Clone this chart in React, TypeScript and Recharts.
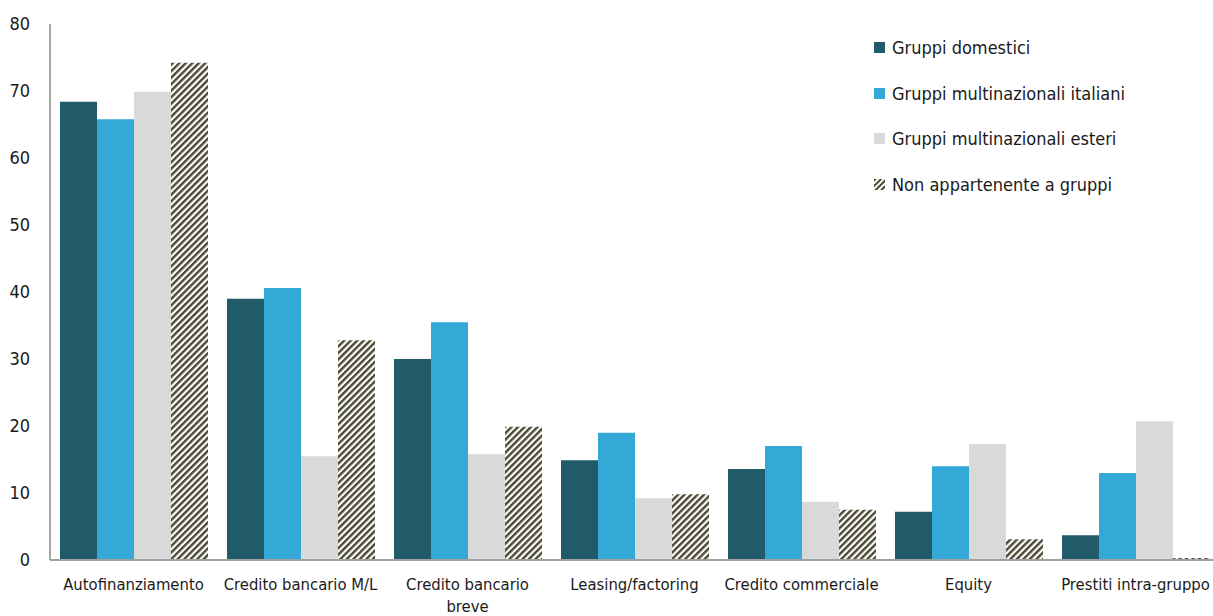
import React from "react";
import { BarChart, Bar, XAxis, YAxis, Legend } from "recharts";

const categories = [
  "Autofinanziamento",
  "Credito bancario M/L",
  "Credito bancario breve",
  "Leasing/factoring",
  "Credito commerciale",
  "Equity",
  "Prestiti intra-gruppo",
];
const tickLines: string[][] = [
  ["Autofinanziamento"],
  ["Credito bancario M/L"],
  ["Credito bancario", "breve"],
  ["Leasing/factoring"],
  ["Credito commerciale"],
  ["Equity"],
  ["Prestiti intra-gruppo"],
];
const gruppiDomestici = [68.4, 39.0, 30.0, 14.9, 13.6, 7.2, 3.7];
const multinazionaliItaliani = [65.8, 40.6, 35.5, 19.0, 17.0, 14.0, 13.0];
const multinazionaliEsteri = [69.9, 15.5, 15.8, 9.2, 8.7, 17.3, 20.7];
const nonAppartenente = [74.2, 32.8, 19.9, 9.8, 7.5, 3.1, 0.3];
const yTicks = [0, 10, 20, 30, 40, 50, 60, 70, 80];

const seriesNames = [
  "Gruppi domestici",
  "Gruppi multinazionali italiani",
  "Gruppi multinazionali esteri",
  "Non appartenente a gruppi",
];
const colors = ["#215a69", "#34a8d6", "#d9d9d9", "url(#hatch)"];

const data = categories.map((c, i) => ({
  name: c,
  s0: gruppiDomestici[i],
  s1: multinazionaliItaliani[i],
  s2: multinazionaliEsteri[i],
  s3: nonAppartenente[i],
}));

const FONT = "'Liberation Sans Narrow', 'Arial Narrow', 'DejaVu Sans Condensed', 'DejaVu Sans', sans-serif";
const TEXT = "#1a1a1a";

const XTick = (props: any) => {
  const { x, y, payload } = props;
  const lines = tickLines[payload.index] || [payload.value];
  return (
    <text x={x} y={y} textAnchor="middle" fill={TEXT} fontSize={16.5} fontFamily={FONT} style={{ fontStretch: "condensed" }}>
      {lines.map((l, i) => (
        <tspan key={i} x={x} dy={i === 0 ? 30 : 22}>
          {l}
        </tspan>
      ))}
    </text>
  );
};

const LegendContent = () => (
  <div style={{ fontFamily: FONT, fontSize: 18, color: TEXT, fontStretch: "condensed" }}>
    {seriesNames.map((n, i) => (
      <div key={n} style={{ display: "flex", alignItems: "center", height: 45.5 }}>
        <svg width={11} height={11} style={{ marginRight: 7 }}>
          <defs>
            <pattern id={`lhatch${i}`} width="4" height="4" patternUnits="userSpaceOnUse" patternTransform="rotate(45)">
              <rect width="4" height="4" fill="#ffffff" />
              <rect width="2" height="4" fill="#4b4832" />
            </pattern>
          </defs>
          <rect width={11} height={11} fill={i === 3 ? `url(#lhatch${i})` : colors[i]} />
        </svg>
        <span>{n}</span>
      </div>
    ))}
  </div>
);

export default function App() {
  return (
    <div style={{ position: "absolute", left: 0, top: 0, background: "#fff", width: 1213, height: 616, overflow: "hidden" }}>
      <BarChart
        width={1213}
        height={616}
        data={data}
        margin={{ top: 24, right: -6, left: 0, bottom: 0 }}
        barCategoryGap={10}
        barGap={0}
      >
        <defs>
          <pattern id="hatch" width="4.6" height="4.6" patternUnits="userSpaceOnUse" patternTransform="rotate(45)">
            <rect width="4.6" height="4.6" fill="#ffffff" />
            <rect width="2.4" height="4.6" fill="#4b4832" />
          </pattern>
        </defs>
        <XAxis
          dataKey="name"
          height={56}
          tickLine={false}
          tickSize={0}
          tickMargin={0}
          axisLine={{ stroke: "#a0a0a0", strokeWidth: 2 }}
          tick={<XTick />}
          interval={0}
        />
        <YAxis
          width={50}
          domain={[0, 80]}
          ticks={yTicks}
          tickLine={false}
          tickSize={0}
          tickMargin={20}
          axisLine={{ stroke: "#a6a6a6", strokeWidth: 2 }}
          tick={{ fill: TEXT, fontSize: 18, fontFamily: FONT, style: { fontStretch: "condensed" } }}
          interval={0}
        />
        <Legend
          layout="horizontal"
          verticalAlign="middle"
          align="center"
          content={<LegendContent />}
          wrapperStyle={{ left: 874, top: 25, width: 320 }}
        />
        <Bar dataKey="s0" name={seriesNames[0]} fill={colors[0]} isAnimationActive={false} />
        <Bar dataKey="s1" name={seriesNames[1]} fill={colors[1]} isAnimationActive={false} />
        <Bar dataKey="s2" name={seriesNames[2]} fill={colors[2]} isAnimationActive={false} />
        <Bar dataKey="s3" name={seriesNames[3]} fill={colors[3]} isAnimationActive={false} />
      </BarChart>
    </div>
  );
}
